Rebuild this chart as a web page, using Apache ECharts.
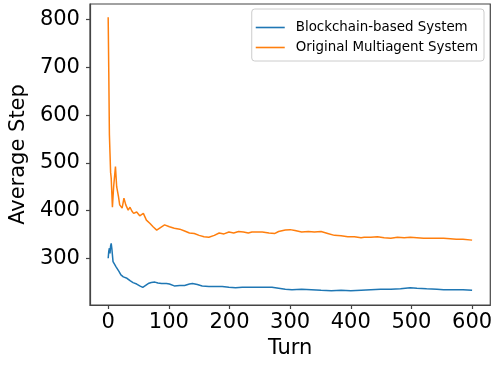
<!DOCTYPE html>
<html>
<head>
<meta charset="utf-8">
<script src="https://cdn.jsdelivr.net/npm/echarts@6/dist/echarts.min.js"></script>
<style>
  html, body { margin: 0; padding: 0; background: #fff; }
  #chart { width: 495px; height: 365px; }
</style>
</head>
<body>
<div id="chart"></div>
<script>
// Running average of steps per turn for the two systems
const blockchainTurns = [0,1,2,3,4,5,6,8,10,13,16,18,21,25,31,36,41,47,52,57,60,66,71,77,82,88,96,101,109,118,126,134,139,147,155,166,177,188,199,210,221,237,254,270,281,292,303,319,335,351,368,384,400,417,433,449,466,482,498,509,525,542,553,569,585,600];
const blockchainSteps = [300,315,321,310,326,331,321,293,289,282,282,272,265,261,258,253,249,246,242,239,243,247,249,250,248,247,247,246,242,243,243,246,247,245,242,241,241,241,239,238,239,239,239,239,237,235,234,235,234,233,232,233,232,233,234,235,235,236,238,237,236,235,234,234,234,233];

const originalTurns = [0,1,2,3,4,5,7,9,12,14,17,19,23,26,29,33,36,39,42,47,52,58,63,69,74,80,88,93,101,109,118,126,134,142,150,158,166,175,183,191,199,207,215,223,231,237,254,265,275,281,292,300,308,319,330,340,351,362,373,384,395,406,417,422,433,444,455,466,477,488,498,509,520,531,542,553,564,574,585,600];
const originalSteps = [805,690,560,520,480,468,407,450,492,450,429,412,405,426,412,401,407,399,394,397,389,394,380,373,366,359,366,370,366,363,361,357,353,352,348,345,344,348,353,351,355,353,356,355,353,355,355,353,352,356,359,360,358,355,356,355,356,352,348,347,345,345,343,344,344,345,343,342,344,343,344,343,342,342,342,342,341,340,340,338];

const xTicks = [0,100,200,300,400,500,600];
const yTicks = [300,400,500,600,700,800];

const seriesNames = ['Blockchain-based System', 'Original Multiagent System'];
const colors = ['#1f77b4', '#ff7f0e'];

const pair = (xs, ys) => xs.map((x, i) => [x, ys[i]]);

const font = 'DejaVu Sans';
const chart = echarts.init(document.getElementById('chart'), null, { renderer: 'canvas' });

const axisCommon = {
  type: 'value',
  splitLine: { show: false },
  axisLine: { show: true, onZero: false, lineStyle: { color: '#444', width: 1.2 } },
  axisTick: { show: true, inside: false, length: 4, lineStyle: { color: '#444', width: 1.2 } },
  nameTextStyle: { fontFamily: font, fontSize: 21, color: '#000' }
};

chart.setOption({
  animation: false,
  backgroundColor: '#fff',
  color: colors,
  grid: {
    left: 87, right: 4, top: 4, bottom: 60,
    show: true, borderColor: '#444', borderWidth: 1.2, containLabel: false
  },
  legend: {
    orient: 'vertical',
    right: 11, top: 9,
    data: seriesNames.map((name, i) => ({
      name: name,
      icon: 'rect',
      itemStyle: { color: colors[i] }
    })),
    itemWidth: 29, itemHeight: 1.6, itemGap: 5,
    padding: [11, 6, 6, 4],
    borderColor: '#ccc', borderWidth: 1, borderRadius: 3,
    backgroundColor: 'rgba(255,255,255,0.8)',
    textStyle: { fontFamily: font, fontSize: 13.4, lineHeight: 15, color: '#000', padding: [0, 0, 0, 6] }
  },
  xAxis: Object.assign({}, axisCommon, {
    min: -30, max: 630,
    name: 'Turn', nameLocation: 'middle', nameGap: 32,
    axisTick: Object.assign({}, axisCommon.axisTick, { customValues: xTicks }),
    axisLabel: { customValues: xTicks, fontFamily: font, fontSize: 21, color: '#000', margin: 7 }
  }),
  yAxis: Object.assign({}, axisCommon, {
    min: 202, max: 833,
    name: 'Average Step', nameLocation: 'middle', nameGap: 57,
    axisTick: Object.assign({}, axisCommon.axisTick, { customValues: yTicks }),
    axisLabel: { customValues: yTicks, fontFamily: font, fontSize: 21, color: '#000', margin: 10 }
  }),
  series: [
    {
      name: seriesNames[0], type: 'line', symbol: 'none', showSymbol: false,
      lineStyle: { width: 1.5, color: colors[0] },
      data: pair(blockchainTurns, blockchainSteps)
    },
    {
      name: seriesNames[1], type: 'line', symbol: 'none', showSymbol: false,
      lineStyle: { width: 1.5, color: colors[1] },
      data: pair(originalTurns, originalSteps)
    }
  ]
});
</script>
</body>
</html>
